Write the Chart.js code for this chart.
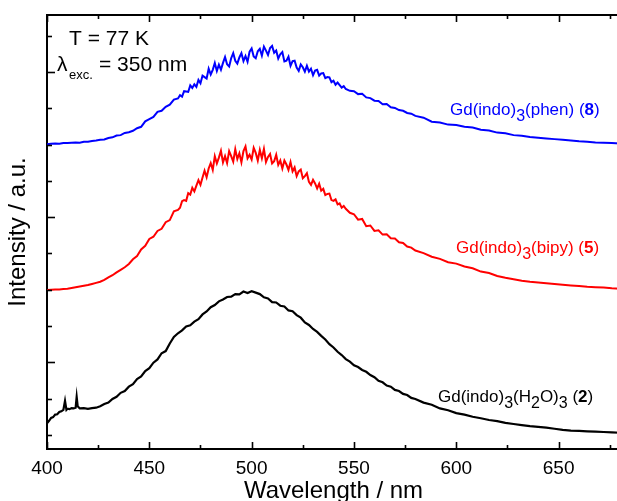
<!DOCTYPE html>
<html><head><meta charset="utf-8">
<script src="https://cdn.jsdelivr.net/npm/chart.js@4.4.0/dist/chart.umd.min.js"></script>
<style>html,body{margin:0;padding:0;overflow:hidden;background:#fff}#wrap{width:625px;height:501px}</style>
</head><body><div id="wrap"><canvas id="c" width="625" height="501"></canvas></div>
<script>
// Wavelength (nm) for the blue (phen) and red (bipy) spectra
const wavelengthsColor = [400,402,404,406,408,410,412,414,416,418,420,422,424,426,428,430,432,434,436,438,440,442,444,446,448,450,452,454,456,458,460,462,464,
465,466,467,468,469,470,471,472,473,474,475,476,477,478,479,480,481,482,483,484,485,486,487,488,489,490,491,492,493,494,495,496,497,498,499,500,501,502,503,504,505,506,507,508,509,510,511,512,513,514,515,516,517,518,519,520,521,522,523,524,525,526,527,528,529,530,531,532,533,534,535,536,537,538,539,540,541,542,543,544,545,546,
548,550,552,554,556,558,560,562,564,566,568,570,572,574,576,578,580,
584,588,592,596,600,604,608,612,616,620,624,628,632,636,640,644,648,652,656,660,664,668,672,676,680];
// Gd(indo)3(phen) (8) — offset intensity (a.u.)
const intensityBlue = [8.01,8.02,8.03,8.02,8.04,8.04,8.05,8.06,8.05,8.08,8.08,8.10,8.11,8.13,8.14,8.18,8.20,8.25,8.26,8.32,8.34,8.38,8.45,8.49,8.64,8.70,8.76,8.90,8.93,9.04,9.10,9.24,9.27,
9.36,9.32,9.47,9.46,9.45,9.63,9.56,9.66,9.59,9.78,9.69,9.90,9.86,9.82,10.09,9.93,10.06,10.25,10.03,10.20,10.06,10.25,10.41,10.21,10.15,10.38,10.52,10.31,10.23,10.40,10.52,10.30,10.44,10.28,10.56,10.65,10.43,10.38,10.57,10.64,10.45,10.70,10.59,10.47,10.66,10.72,10.53,10.59,10.37,10.49,10.55,10.29,10.31,10.42,10.17,10.30,10.31,10.12,10.03,10.21,10.13,10.01,10.17,10.01,10.09,9.91,10.04,10.06,9.90,9.96,9.97,9.83,9.86,9.85,9.72,9.76,9.65,9.71,9.64,9.57,9.61,9.53,
9.48,9.47,9.39,9.40,9.30,9.28,9.21,9.20,9.11,9.12,9.03,9.01,8.95,8.93,8.87,8.85,8.79,
8.74,8.63,8.61,8.55,8.54,8.49,8.47,8.41,8.39,8.33,8.31,8.26,8.24,8.21,8.19,8.17,8.15,8.13,8.11,8.09,8.08,8.06,8.05,8.04,8.03];
// Gd(indo)3(bipy) (5)
const intensityRed = [3.99,4.00,4.01,4.01,4.02,4.03,4.05,4.07,4.09,4.11,4.13,4.16,4.19,4.22,4.27,4.34,4.40,4.48,4.55,4.62,4.71,4.84,4.93,5.11,5.21,5.40,5.46,5.62,5.68,5.86,5.92,6.16,6.20,
6.26,6.44,6.47,6.45,6.66,6.62,6.81,6.71,6.87,7.02,6.89,7.09,7.28,7.10,7.34,7.49,7.30,7.68,7.48,7.64,7.83,7.51,7.68,7.49,7.82,7.68,7.53,7.87,7.60,7.76,7.51,7.82,7.95,7.62,7.72,7.59,7.91,7.77,7.56,7.85,7.62,7.88,7.52,7.66,7.74,7.48,7.54,7.72,7.44,7.56,7.34,7.56,7.45,7.30,7.52,7.26,7.37,7.13,7.26,7.31,7.07,7.13,7.21,6.97,6.89,7.03,6.93,6.79,6.92,6.73,6.78,6.61,6.64,6.65,6.47,6.45,6.49,6.35,6.38,6.26,6.31,6.23,
6.12,6.08,5.93,5.95,5.75,5.77,5.62,5.64,5.52,5.53,5.42,5.41,5.31,5.29,5.19,5.16,5.08,
5.01,4.91,4.85,4.76,4.72,4.64,4.59,4.50,4.46,4.38,4.33,4.29,4.25,4.22,4.20,4.18,4.16,4.14,4.12,4.10,4.08,4.07,4.06,4.04,4.03];
// Gd(indo)3(H2O)3 (2)
const wavelengthsBlack = [400,401,402,403,404,405,406,407,408,408.8,409.5,410,411,412,413,414,414.5,415,416,418,420,422,424,426,428,430,432,434,436,438,440,442,444,446,448,450,452,454,456,458,460,462,464,466,468,470,472,474,476,478,480,482,484,486,488,490,492,494,496,498,500,502,504,506,508,510,512,514,516,518,520,522,524,526,528,530,532,534,536,538,540,542,544,546,548,550,552,554,556,558,560,562,564,566,568,570,572,574,576,578,580,584,588,592,596,600,604,608,612,616,620,624,628,632,636,640,644,648,652,656,660,664,668,672,676,680];
const intensityBlack = [0.32,0.39,0.47,0.49,0.56,0.57,0.63,0.65,0.69,0.94,0.69,0.72,0.71,0.74,0.73,0.75,1.05,0.79,0.73,0.74,0.72,0.74,0.75,0.79,0.85,0.89,0.99,1.05,1.16,1.21,1.33,1.40,1.54,1.61,1.76,1.84,1.99,2.08,2.25,2.31,2.52,2.70,2.80,2.88,2.99,3.02,3.12,3.19,3.32,3.40,3.52,3.58,3.68,3.73,3.80,3.81,3.88,3.87,3.95,3.91,3.96,3.92,3.88,3.79,3.76,3.66,3.65,3.56,3.54,3.43,3.41,3.30,3.23,3.10,3.03,2.92,2.84,2.73,2.63,2.50,2.41,2.29,2.20,2.09,2.02,1.92,1.87,1.79,1.74,1.65,1.59,1.49,1.45,1.36,1.33,1.24,1.21,1.13,1.10,1.02,0.99,0.89,0.83,0.73,0.68,0.60,0.56,0.50,0.46,0.41,0.38,0.33,0.30,0.27,0.24,0.22,0.20,0.17,0.14,0.12,0.11,0.10,0.09,0.08,0.07,0.06];
const xTickLabels = [400,450,500,550,600,650];
const xMinorTicks = [400,425,450,475,500,525,550,575,600,625,650,675];
const yMinorTicks = [0,1,2,3,4,5,6,7,8,9,10,11];
const yMajorTicks = [2,6,10];

const toPts = (xs, ys) => xs.map((x, i) => ({x: x, y: ys[i]}));
const FONT = "'Liberation Sans', Arial, sans-serif";

const decor = {
  id: 'decor',
  afterDraw(chart) {
    const {ctx, chartArea: a, scales: {x, y}} = chart;
    ctx.save();
    ctx.strokeStyle = '#000';
    ctx.lineWidth = 2;
    ctx.beginPath(); ctx.moveTo(a.left - 1, a.top); ctx.lineTo(a.right + 2, a.top); ctx.stroke();
    ctx.lineWidth = 1.6;
    xMinorTicks.forEach(v => {
      const px = Math.round(x.getPixelForValue(v)) + 0.5;
      const len = v % 50 === 0 ? 7 : 4;
      ctx.beginPath();
      ctx.moveTo(px, a.bottom); ctx.lineTo(px, a.bottom - len);
      ctx.moveTo(px, a.top); ctx.lineTo(px, a.top + len);
      ctx.stroke();
    });
    yMinorTicks.forEach(v => {
      const py = Math.round(y.getPixelForValue(v)) + 0.5;
      const len = yMajorTicks.includes(v) ? 8 : 5;
      ctx.beginPath(); ctx.moveTo(a.left, py); ctx.lineTo(a.left + len, py); ctx.stroke();
    });
    ctx.fillStyle = '#000';
    ctx.textBaseline = 'alphabetic';
    ctx.font = '21px ' + FONT;
    ctx.fillText('T = 77 K', 69, 45);
    ctx.fillText('λ', 57, 71);
    ctx.fillText('= 350 nm', 99, 71);
    ctx.font = '13px ' + FONT;
    ctx.fillText('exc.', 69, 79);
    const drawParts = (parts, x0, base, color) => {
      let cx = x0;
      ctx.fillStyle = color;
      parts.forEach(p => {
        ctx.font = (p.b ? 'bold ' : '') + (p.s ? '16px ' : '17px ') + FONT;
        ctx.fillText(p.t, cx, base + (p.s ? 6 : 0));
        cx += ctx.measureText(p.t).width;
      });
    };
    drawParts([{t:'Gd(indo)'},{t:'3',s:1},{t:'(phen) ('},{t:'8',b:1},{t:')'}], 450, 115, '#0000ff');
    drawParts([{t:'Gd(indo)'},{t:'3',s:1},{t:'(bipy) ('},{t:'5',b:1},{t:')'}], 456, 253, '#ff0000');
    drawParts([{t:'Gd(indo)'},{t:'3',s:1},{t:'(H'},{t:'2',s:1},{t:'O)'},{t:'3',s:1},{t:' ('},{t:'2',b:1},{t:')'}], 438, 402, '#000000');
    ctx.restore();
  }
};

new Chart(document.getElementById('c'), {
  type: 'line',
  data: {
    datasets: [
      {data: toPts(wavelengthsColor, intensityBlue), borderColor: '#0000ff', borderWidth: 2, pointRadius: 0, tension: 0},
      {data: toPts(wavelengthsColor, intensityRed), borderColor: '#ff0000', borderWidth: 2, pointRadius: 0, tension: 0},
      {data: toPts(wavelengthsBlack, intensityBlack), borderColor: '#000000', borderWidth: 2.2, pointRadius: 0, tension: 0}
    ]
  },
  options: {
    responsive: false, animation: false, devicePixelRatio: 1,
    layout: {padding: {top: 15, right: 5, left: 0, bottom: 0}},
    plugins: {legend: {display: false}, tooltip: {enabled: false}},
    scales: {
      x: {
        type: 'linear', min: 400, max: 680,
        afterBuildTicks: s => { s.ticks = xTickLabels.map(v => ({value: v})); },
        afterFit: s => { s.height = 52; },
        grid: {display: false, drawTicks: false},
        border: {display: true, color: '#000', width: 2},
        ticks: {color: '#000', font: {family: FONT, size: 19}, padding: 8, maxRotation: 0},
        title: {display: true, text: 'Wavelength / nm', color: '#000', font: {family: FONT, size: 24}, padding: {top: 0, bottom: -5}}
      },
      y: {
        type: 'linear', min: -0.388, max: 11.57,
        afterFit: s => { s.width = 47; },
        grid: {display: false, drawTicks: false},
        border: {display: true, color: '#000', width: 2},
        ticks: {display: false},
        title: {display: true, text: 'Intensity / a.u.', color: '#000', font: {family: FONT, size: 24}, padding: {top: 4, bottom: 0}}
      }
    }
  },
  plugins: [decor]
});
</script></body></html>
